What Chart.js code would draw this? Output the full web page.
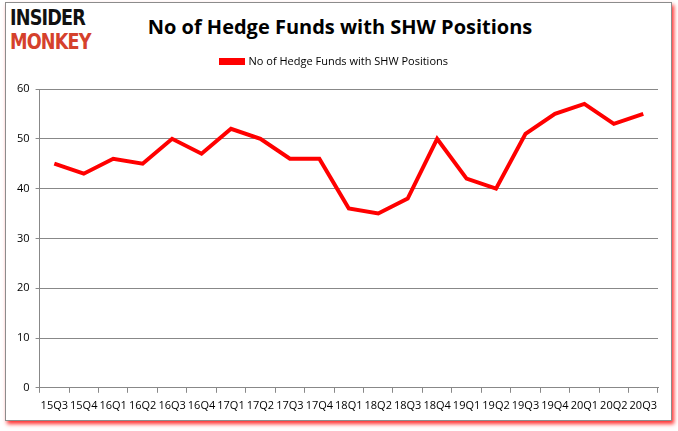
<!DOCTYPE html>
<html lang="en">
<head>
  <meta charset="UTF-8" />
  <title>No of Hedge Funds with SHW Positions</title>
  <script src="https://cdn.jsdelivr.net/npm/chart.js"></script>
  <style>
    body { margin: 0; background: #fff; font-family: "Open Sans", sans-serif; }
    .wrap { position: relative; width: 678px; height: 431px; overflow: hidden; }
    .frame { position: absolute; left: 5px; top: 2px; width: 665px; height: 417px; border: 1px solid #8c8c8c; box-shadow: 2px 3px 4px #ff3030; background: #fff; }
    .logo { position: absolute; left: 10px; top: 6px; font-family: "DejaVu Sans", sans-serif; font-weight: bold; font-size: 21px; line-height: 23px; letter-spacing: -1px; transform: scale(0.84, 1.05); transform-origin: 0 0; }
    .logo .a { color: #111; }
    .logo .b { color: #d5412c; }
    h1 { position: absolute; left: 0; width: 678px; text-align: center; top: 13px; margin: 0; padding-left: 2px; box-sizing: border-box; font-size: 20px; font-weight: bold; color: #000; }
    canvas { position: absolute; left: 0; top: 0; }
  </style>
</head>
<body>
<div class="wrap">
  <div class="frame"></div>
  <div class="logo"><div class="a">INSIDER</div><div class="b">MONKEY</div></div>
  <h1>No of Hedge Funds with SHW Positions</h1>
  <canvas id="chart" width="678" height="431"></canvas>
</div>
<script>
const quarters = ['15Q3', '15Q4', '16Q1', '16Q2', '16Q3', '16Q4', '17Q1', '17Q2', '17Q3', '17Q4', '18Q1', '18Q2', '18Q3', '18Q4', '19Q1', '19Q2', '19Q3', '19Q4', '20Q1', '20Q2', '20Q3'];
const funds = [45, 43, 46, 45, 50, 47, 52, 50, 46, 46, 36, 35, 38, 50, 42, 40, 51, 55, 57, 53, 55];
const yTicks = [0, 10, 20, 30, 40, 50, 60];

const tickFont = { family: '"Open Sans", sans-serif', size: 11 };

// extra space between legend and plot area
const legendGap = {
  id: 'legendGap',
  beforeInit(chart) {
    const fit = chart.legend.fit;
    chart.legend.fit = function () {
      fit.bind(chart.legend)();
      this.height += 12;
    };
  }
};

new Chart(document.getElementById('chart').getContext('2d'), {
  type: 'line',
  data: {
    labels: quarters,
    datasets: [{
      label: 'No of Hedge Funds with SHW Positions',
      data: funds,
      borderColor: '#ff0000',
      backgroundColor: '#ff0000',
      borderWidth: 4,
      pointRadius: 0,
      tension: 0
    }]
  },
  options: {
    responsive: false,
    animation: false,
    layout: { padding: { left: 11, right: 20, top: 46, bottom: 13 } },
    plugins: {
      legend: {
        position: 'top',
        labels: { color: '#000', font: tickFont, boxWidth: 22, boxHeight: 3, padding: 10 }
      },
      tooltip: { enabled: false }
    },
    scales: {
      x: {
        offset: true,
        grid: { offset: true, drawOnChartArea: false, color: '#888', tickLength: 5 },
        border: { color: '#888' },
        ticks: { color: '#000', font: tickFont, maxRotation: 0, autoSkip: false, padding: 6 }
      },
      y: {
        min: 0,
        max: 60,
        afterBuildTicks: axis => { axis.ticks = yTicks.map(v => ({ value: v })); },
        grid: { color: '#888', tickLength: 4 },
        border: { color: '#888' },
        ticks: { color: '#000', font: tickFont, padding: 6 }
      }
    }
  },
  plugins: [legendGap]
});
</script>
</body>
</html>
